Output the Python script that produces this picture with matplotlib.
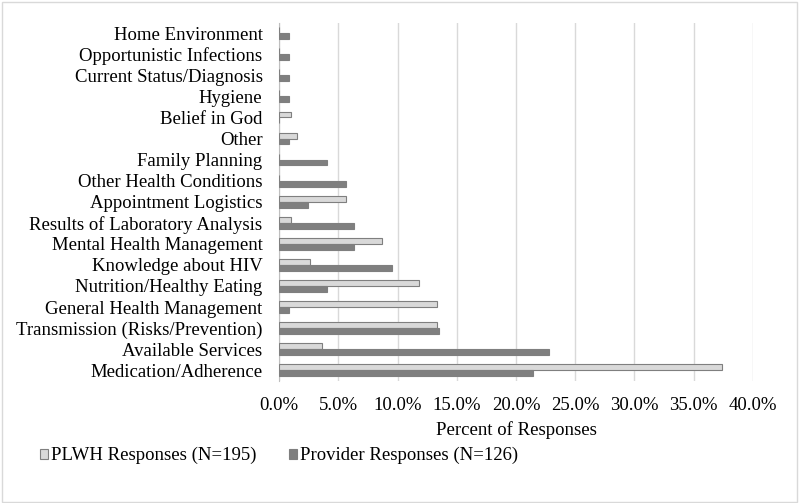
import matplotlib as mpl
mpl.use('Agg')
import matplotlib.pyplot as plt
from matplotlib.ticker import FuncFormatter
import numpy as np

plt.rcParams['font.family'] = ['Liberation Serif', 'DejaVu Serif']

# categories listed bottom to top
categories = ['Medication/Adherence', 'Available Services', 'Transmission (Risks/Prevention)',
              'General Health Management', 'Nutrition/Healthy Eating', 'Knowledge about HIV',
              'Mental Health Management', 'Results of Laboratory Analysis', 'Appointment Logistics',
              'Other Health Conditions', 'Family Planning', 'Other', 'Belief in God', 'Hygiene',
              'Current Status/Diagnosis', 'Opportunistic Infections', 'Home Environment']
plwh = [37.4, 3.6, 13.3, 13.3, 11.8, 2.6, 8.7, 1.0, 5.6, 0.0, 0.0, 1.5, 1.0, 0.0, 0.0, 0.0, 0.0]
provider = [21.4, 22.8, 13.5, 0.8, 4.0, 9.5, 6.3, 6.3, 2.4, 5.6, 4.0, 0.8, 0.0, 0.8, 0.8, 0.8, 0.8]
xticks = [0, 5, 10, 15, 20, 25, 30, 35, 40]

fs = 13.5
fig = plt.figure(figsize=(8, 5.03), dpi=100)
ax = fig.add_axes([0.349, 0.243, 0.592, 0.712])

y = np.arange(len(categories))
h = 0.28
ax.barh(y + h / 2, plwh, height=h, color='#d9d9d9', edgecolor='#7f7f7f', linewidth=0.8,
        label='PLWH Responses (N=195)', zorder=3)
ax.barh(y - h / 2, provider, height=h, color='#7f7f7f', edgecolor='#7f7f7f', linewidth=0.8,
        label='Provider Responses (N=126)', zorder=3)

ax.set_yticks(y)
ax.set_yticklabels(categories, fontsize=fs)
ax.set_ylim(-0.5, len(categories) - 0.5)
ax.set_xlim(0, 40)
ax.set_xticks(xticks)
ax.xaxis.set_major_formatter(FuncFormatter(lambda v, p: '%.1f%%' % v))
ax.tick_params(axis='x', labelsize=fs, length=0, pad=12)
ax.tick_params(axis='y', length=0, pad=12)
ax.grid(axis='x', color='#d9d9d9', linewidth=1, zorder=0)
for s in ['top', 'right', 'bottom']:
    ax.spines[s].set_visible(False)
ax.spines['left'].set_color('#bfbfbf')
ax.set_xlabel('Percent of Responses', fontsize=fs, labelpad=5)

fig.legend(loc='center left', bbox_to_anchor=(0.05, 0.094), ncol=2, frameon=False, fontsize=fs,
           handlelength=0.45, handleheight=0.45, handletextpad=0.12, columnspacing=1.75,
           borderaxespad=0, borderpad=0)

border = plt.Rectangle((0.002, 0.002), 0.994, 0.994, transform=fig.transFigure, fill=False,
                       edgecolor='#d9d9d9', linewidth=1)
fig.patches.append(border)

fig.savefig('out.png', dpi=100)
